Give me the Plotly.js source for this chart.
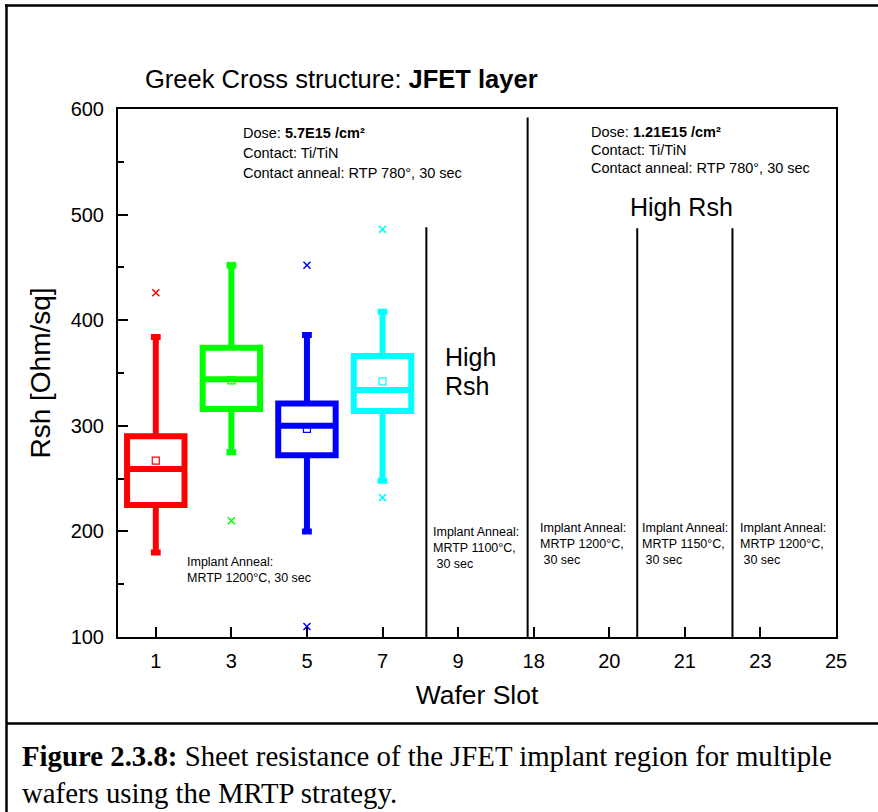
<!DOCTYPE html>
<html>
<head>
<meta charset="utf-8">
<script src="https://cdn.plot.ly/plotly-3.0.1.min.js"></script>
<style>
  html, body { margin: 0; padding: 0; background: #fff; }
  #chart { width: 878px; height: 812px; }
</style>
</head>
<body>
<div id="chart"></div>
<script>
// ---------------- data ----------------
const slots = ['1', '3', '5', '7', '9', '18', '20', '21', '23', '25'];
const boxSlots = ['1', '3', '5', '7'];
const boxColors = ['#ff0000', '#00ff00', '#0000ff', '#00ffff'];
const q1 = [225, 316, 272, 314];
const medians = [259, 344, 300, 334];
const q3 = [290, 374, 321, 366];
const lowerFence = [180, 275, 200, 248];
const upperFence = [384, 452, 386, 408];
const means = [267, 343, 297, 342];
const outlierSlots = ['1', '3', '3', '5', '5', '7', '7'];
const outlierValues = [426, 452, 210, 452, 110, 486, 232];
const outlierColors = ['#ff0000', '#00ff00', '#00ff00', '#0000ff', '#0000ff', '#00ffff', '#00ffff'];

// ---------------- helpers (pixel -> paper) ----------------
const L = 118, R = 836, T = 109, B = 637, W = 878, H = 812;
const px = x => (x - L) / (R - L);
const py = y => (B - y) / (B - T);
const SANS = 'Liberation Sans, Arial, sans-serif';
const SERIF = 'Liberation Serif, Times New Roman, serif';

const traces = [];
boxSlots.forEach((s, i) => {
  traces.push({
    type: 'box',
    x: [s],
    q1: [q1[i]], median: [medians[i]], q3: [q3[i]],
    lowerfence: [lowerFence[i]], upperfence: [upperFence[i]],
    boxpoints: false,
    width: 0.76,
    whiskerwidth: 0.17,
    line: { color: boxColors[i], width: 6 },
    fillcolor: 'rgba(0,0,0,0)',
    showlegend: false,
    hoverinfo: 'skip'
  });
});
traces.push({
  type: 'scatter', mode: 'markers',
  x: boxSlots, y: means,
  marker: { symbol: 'square-open', size: 7, color: boxColors, line: { width: 1.2, color: boxColors } },
  showlegend: false, hoverinfo: 'skip'
});
traces.push({
  type: 'scatter', mode: 'markers',
  x: outlierSlots, y: outlierValues,
  marker: { symbol: 'x-thin-open', size: 7, color: outlierColors, line: { width: 1.5, color: outlierColors } },
  showlegend: false, hoverinfo: 'skip'
});

// ---------------- annotations ----------------
const ann = [];
function addLines(lines, x, y0, dy, size) {
  lines.forEach((t, k) => ann.push({
    xref: 'paper', yref: 'paper', x: px(x), y: py(y0 + k * dy),
    xanchor: 'left', yanchor: 'middle', showarrow: false, align: 'left',
    text: t, font: { family: SANS, size: size, color: '#000' }
  }));
}
addLines(['Dose: <b>5.7E15 /cm²</b>', 'Contact: Ti/TiN', 'Contact anneal: RTP 780°, 30 sec'], 241, 133, 20, 14.5);
addLines(['Dose: <b>1.21E15 /cm²</b>', 'Contact: Ti/TiN', 'Contact anneal: RTP 780°, 30 sec'], 589, 132, 18, 14.5);
addLines(['High Rsh'], 628, 207, 0, 25);
addLines(['High', 'Rsh'], 443, 357, 29, 25);
addLines(['Implant Anneal:', 'MRTP 1200°C, 30 sec'], 185, 562, 16, 12.5);
addLines(['Implant Anneal:', 'MRTP 1100°C,', ' 30 sec'], 431, 532, 16, 12.5);
addLines(['Implant Anneal:', 'MRTP 1200°C,', ' 30 sec'], 538, 528, 16, 12.5);
addLines(['Implant Anneal:', 'MRTP 1150°C,', ' 30 sec'], 640, 528, 16, 12.5);
addLines(['Implant Anneal:', 'MRTP 1200°C,', ' 30 sec'], 738, 528, 16, 12.5);

// caption
ann.push({
  xref: 'paper', yref: 'paper', x: px(20), y: py(756), xanchor: 'left', yanchor: 'middle',
  showarrow: false, align: 'left',
  text: '<b>Figure 2.3.8:</b> Sheet resistance of the JFET implant region for multiple',
  font: { family: SERIF, size: 28.8, color: '#000' }
});
ann.push({
  xref: 'paper', yref: 'paper', x: px(20), y: py(793), xanchor: 'left', yanchor: 'middle',
  showarrow: false, align: 'left',
  text: 'wafers using the MRTP strategy.',
  font: { family: SERIF, size: 28.8, color: '#000' }
});

// ---------------- shapes ----------------
const shapes = [];
// separators between groups (in data coordinates: category index, value)
[[3.58, 488], [4.92, 592], [6.37, 487], [7.63, 487]].forEach(([xi, top]) => {
  shapes.push({ type: 'line', xref: 'x', yref: 'y', x0: xi, x1: xi, y0: 100, y1: top,
    line: { color: '#000', width: 2 } });
});
// outer figure frame
shapes.push({ type: 'line', xref: 'paper', yref: 'paper', x0: px(5), x1: px(880), y0: py(5.5), y1: py(5.5), line: { color: '#000', width: 2.5 } });
shapes.push({ type: 'line', xref: 'paper', yref: 'paper', x0: px(6.5), x1: px(6.5), y0: py(4.5), y1: py(815), line: { color: '#000', width: 2.5 } });
shapes.push({ type: 'line', xref: 'paper', yref: 'paper', x0: px(6), x1: px(880), y0: py(723.5), y1: py(723.5), line: { color: '#000', width: 2.5 } });

const layout = {
  width: W, height: H,
  margin: { l: L, r: W - R, t: T, b: H - B, pad: 0 },
  paper_bgcolor: '#fff', plot_bgcolor: '#fff',
  showlegend: false,
  title: {
    text: 'Greek Cross structure: <b>JFET layer</b>',
    x: 145 / W, xref: 'container', xanchor: 'left',
    y: 1 - 79 / H, yref: 'container', yanchor: 'middle',
    font: { family: SANS, size: 25.5, color: '#000' }
  },
  xaxis: {
    type: 'category', categoryorder: 'array', categoryarray: slots,
    tickvals: slots, ticktext: slots,
    range: [-0.5, 9],
    showgrid: false, zeroline: false,
    showline: true, mirror: true, linecolor: '#000', linewidth: 2,
    ticks: 'inside', ticklen: 10, tickwidth: 2, tickcolor: '#000',
    ticklabelstandoff: 5,
    tickfont: { family: SANS, size: 20, color: '#000' },
    title: { text: 'Wafer Slot', font: { family: SANS, size: 26.5, color: '#000' }, standoff: 14 }
  },
  yaxis: {
    range: [100, 600], dtick: 100, tick0: 100,
    showgrid: false, zeroline: false,
    showline: true, mirror: true, linecolor: '#000', linewidth: 2,
    ticks: 'inside', ticklen: 10, tickwidth: 2, tickcolor: '#000',
    ticklabelstandoff: 8,
    tickfont: { family: SANS, size: 20, color: '#000' },
    minor: { dtick: 50, ticks: 'inside', ticklen: 6, tickwidth: 2, tickcolor: '#000', showgrid: false },
    title: { text: 'Rsh [Ohm/sq]', font: { family: SANS, size: 28, color: '#000' }, standoff: 12 }
  },
  annotations: ann,
  shapes: shapes
};

Plotly.newPlot('chart', traces, layout, { displayModeBar: false, staticPlot: true });
</script>
</body>
</html>
